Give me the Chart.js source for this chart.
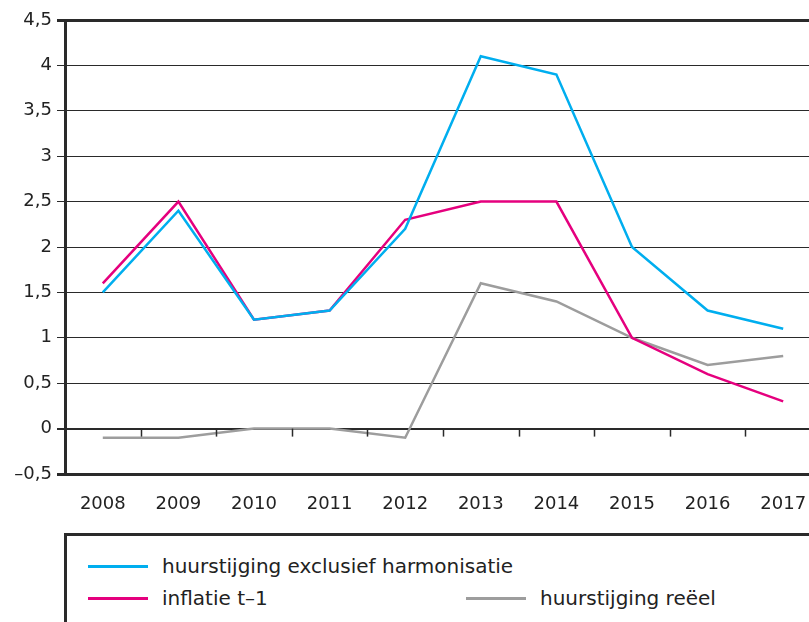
<!DOCTYPE html>
<html>
<head>
<meta charset="utf-8">
<script src="https://cdn.jsdelivr.net/npm/chart.js@4"></script>
<style>
  body { margin: 0; background: #fff; overflow: hidden; width: 809px; height: 622px; position: relative; font-family: "DejaVu Sans", sans-serif; }
  #wrap { position: absolute; left: 0; top: 0; width: 821px; height: 520px; }
  #legend { position: absolute; left: 64px; top: 533px; width: 800px; height: 120px; border-top: 3px solid #2a2a2a; border-left: 3px solid #2a2a2a; }
  .item { position: absolute; font-size: 20px; line-height: 24px; color: #222; white-space: nowrap; }
  .swatch { position: absolute; width: 60px; height: 3px; }
</style>
</head>
<body>
<div id="wrap"><canvas id="rentChart"></canvas></div>
<div id="legend"></div>
<script>
const years = ['2008', '2009', '2010', '2011', '2012', '2013', '2014', '2015', '2016', '2017'];
const huurExclHarm = [1.5, 2.4, 1.2, 1.3, 2.2, 4.1, 3.9, 2.0, 1.3, 1.1];
const inflatie = [1.6, 2.5, 1.2, 1.3, 2.3, 2.5, 2.5, 1.0, 0.6, 0.3];
const huurReeel = [-0.1, -0.1, 0, 0, -0.1, 1.6, 1.4, 1.0, 0.7, 0.8];

const seriesNames = ['huurstijging exclusief harmonisatie', 'inflatie t\u20131', 'huurstijging re\u00ebel'];
const colors = ['#00AEEF', '#E5007E', '#9D9D9D'];

// small tick marks on the zero line between the years
const zeroTicks = {
    id: 'zeroTicks',
    afterDatasetsDraw(chart) {
        const x = chart.scales.x, y = chart.scales.y;
        const y0 = y.getPixelForValue(0);
        const ctx = chart.ctx;
        ctx.save();
        ctx.strokeStyle = '#2a2a2a';
        ctx.lineWidth = 1.5;
        for (let i = 0; i < years.length - 1; i++) {
            const bx = Math.round((x.getPixelForValue(i) + x.getPixelForValue(i + 1)) / 2) + 0.5;
            ctx.beginPath();
            ctx.moveTo(bx, y0);
            ctx.lineTo(bx, y0 + 8);
            ctx.stroke();
        }
        ctx.restore();
    }
};

function initializeRentChart() {
    const ctx = document.getElementById('rentChart').getContext('2d');
    const data = [huurExclHarm, inflatie, huurReeel];
    new Chart(ctx, {
        type: 'line',
        data: {
            labels: years,
            datasets: data.map((d, i) => ({
                label: seriesNames[i],
                data: d,
                borderColor: colors[i],
                borderWidth: 2.5,
                pointRadius: 0,
                tension: 0,
                fill: false
            }))
        },
        options: {
            responsive: true,
            maintainAspectRatio: false,
            animation: false,
            layout: { padding: { top: 20, right: 0, bottom: 0, left: 0 } },
            plugins: {
                legend: { display: false },
                tooltip: { enabled: false }
            },
            scales: {
                x: {
                    offset: true,
                    grid: { display: false },
                    border: { display: false },
                    ticks: { color: '#222', font: { family: 'DejaVu Sans', size: 18 }, padding: 12, maxRotation: 0 },
                    afterFit(scale) { scale.height = 46; }
                },
                y: {
                    min: -0.5,
                    max: 4.5,
                    border: { display: true, width: 3, color: '#2a2a2a' },
                    grid: {
                        color: '#2a2a2a',
                        tickLength: 8,
                        lineWidth(c) {
                            const v = c.tick.value;
                            if (v === 4.5 || v === -0.5) return 3;
                            if (v === 0) return 2;
                            return 1;
                        }
                    },
                    ticks: {
                        stepSize: 0.5,
                        color: '#222',
                        padding: 5,
                        font: { family: 'DejaVu Sans', size: 18 },
                        callback: v => String(v).replace('.', ',').replace('-', '\u2013')
                    },
                    afterFit(scale) { scale.width = 65; }
                }
            }
        },
        plugins: [zeroTicks]
    });
}

function buildLegend() {
    const box = document.getElementById('legend');
    const spots = [[21, 30], [21, 62], [399, 62]];
    seriesNames.forEach((name, i) => {
        const sw = document.createElement('div');
        sw.className = 'swatch';
        sw.style.background = colors[i];
        sw.style.left = spots[i][0] + 'px';
        sw.style.top = (spots[i][1] - 1) + 'px';
        box.appendChild(sw);
        const t = document.createElement('div');
        t.className = 'item';
        t.textContent = name;
        t.style.left = (spots[i][0] + 74) + 'px';
        t.style.top = (spots[i][1] - 12) + 'px';
        box.appendChild(t);
    });
}

buildLegend();
initializeRentChart();
</script>
</body>
</html>
